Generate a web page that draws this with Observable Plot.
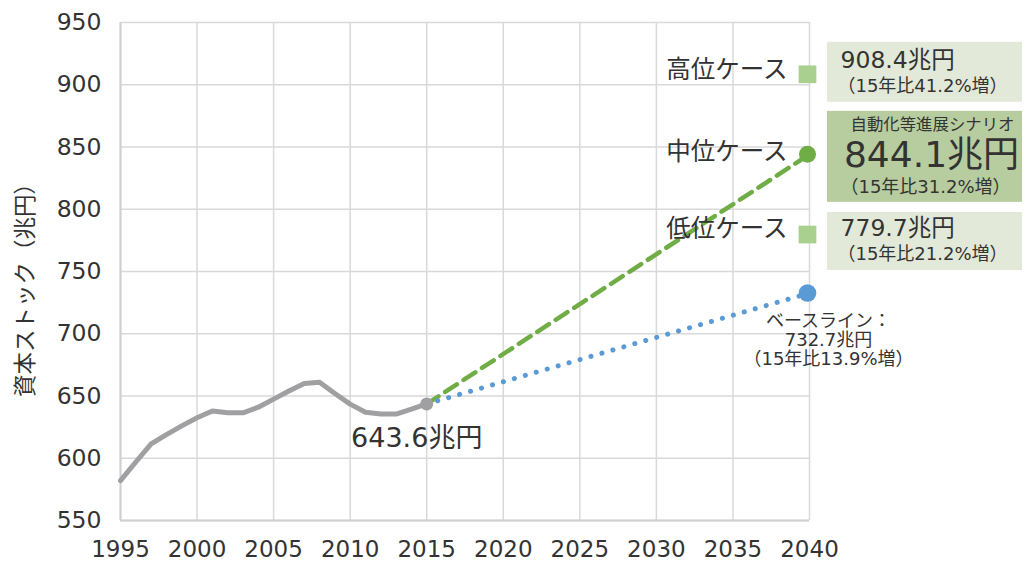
<!DOCTYPE html>
<html>
<head>
<meta charset="utf-8">
<script src="https://cdn.jsdelivr.net/npm/d3@7"></script>
<script src="https://cdn.jsdelivr.net/npm/@observablehq/plot@0.6"></script>
<style>
  html, body { margin: 0; padding: 0; background: #fff; }
  #chart { width: 1024px; height: 563px; }
</style>
</head>
<body>
<div id="chart"></div>
<script>
// Capital stock history (trillion yen)
const years = [1995, 1996, 1997, 1998, 1999, 2000, 2001, 2002, 2003, 2004, 2005,
               2006, 2007, 2008, 2009, 2010, 2011, 2012, 2013, 2014, 2015];
const capitalStock = [582, 597, 611.5, 619, 626, 632.5, 638, 636.5, 636.5, 641, 647.5,
                      654, 660, 661, 652, 643.5, 637, 635.5, 635.5, 639.5, 643.6];

// 2040 projections
const scenarioNames = ["高位ケース", "中位ケース", "低位ケース"];
const scenarioValues = [908.4, 844.1, 779.7];
const scenarioGrowth = ["41.2", "31.2", "21.2"];
const baselineValue = 732.7;
const baselineGrowth = "13.9";
const startYear = 2015;
const endYear = 2040;
const startValue = 643.6;

const xTicks = [1995, 2000, 2005, 2010, 2015, 2020, 2025, 2030, 2035, 2040];
const yTicks = [550, 600, 650, 700, 750, 800, 850, 900, 950];

const history = years.map((year, i) => ({year, value: capitalStock[i]}));
const midLine = [{year: startYear, value: startValue}, {year: endYear, value: scenarioValues[1]}];
const baseLine = [{year: startYear, value: startValue}, {year: endYear, value: baselineValue}];
const squares = [0, 2].map(i => ({year: endYear, value: scenarioValues[i]}));

const font = "'DejaVu Sans', 'Noto Sans CJK JP', sans-serif";
const ink = "#333";

// text anchored at the 2040 value of a scenario
const at = (value, text, options) =>
  Plot.text([value], {x: () => endYear, y: d => d, text: () => text, fill: ink, ...options});

const chart = Plot.plot({
  width: 1024,
  height: 563,
  marginLeft: 120,
  marginRight: 215,
  marginTop: 22,
  marginBottom: 43,
  style: {fontFamily: font, fontSize: "23px", color: ink, background: "#fff", overflow: "visible"},
  x: {domain: [1995, 2040], label: null},
  y: {domain: [550, 950], label: null},
  marks: [
    Plot.gridX(xTicks, {stroke: "#D9D9D9", strokeOpacity: 1, strokeWidth: 1.5}),
    Plot.gridY(yTicks, {stroke: "#D9D9D9", strokeOpacity: 1, strokeWidth: 1.5}),
    Plot.ruleX([1995], {stroke: "#D0D0D0", strokeWidth: 2}),
    Plot.ruleY([550], {stroke: "#D0D0D0", strokeWidth: 2}),
    Plot.axisX({ticks: xTicks, tickSize: 0, tickPadding: 20, tickFormat: d => String(d), fontSize: 23, label: null}),
    Plot.axisY({ticks: yTicks, tickSize: 0, tickPadding: 19, fontSize: 23.5, label: null}),
    Plot.text(["資本ストック（兆円）"], {frameAnchor: "left", textAnchor: "middle", dx: -95, dy: 13, rotate: -90, fontSize: 22.5, fill: ink}),

    // projections
    Plot.line(midLine, {x: "year", y: "value", stroke: "#70AD47", strokeWidth: 4.5, strokeDasharray: "14 8"}),
    Plot.line(baseLine, {x: "year", y: "value", stroke: "#5B9BD5", strokeWidth: 5, strokeDasharray: "0.1 11.3", strokeLinecap: "round"}),

    // history
    Plot.line(history, {x: "year", y: "value", stroke: "#A0A0A2", strokeWidth: 5, strokeLinejoin: "round"}),
    Plot.dot([{year: startYear, value: startValue}], {x: "year", y: "value", r: 6.5, fill: "#A0A0A2"}),
    Plot.text([{year: startYear, value: startValue}], {x: "year", y: "value", text: d => `${d.value.toFixed(1)}兆円`, dx: -10, dy: 34, fontSize: 27, fill: ink}),

    // 2040 markers
    Plot.dot(squares, {x: "year", y: "value", symbol: "square", r: 10, fill: "#A9D08E", dx: -2}),
    Plot.dot([{year: endYear, value: scenarioValues[1]}], {x: "year", y: "value", r: 8.5, fill: "#70AD47", dx: -2}),
    Plot.dot([{year: endYear, value: baselineValue}], {x: "year", y: "value", r: 8.8, fill: "#5B9BD5", dx: -2}),

    // case names
    at(scenarioValues[0], scenarioNames[0], {textAnchor: "end", dx: -22, dy: -4, fontSize: 24.5}),
    at(scenarioValues[1], scenarioNames[1], {textAnchor: "end", dx: -22, dy: -2, fontSize: 24.5}),
    at(scenarioValues[2], scenarioNames[2], {textAnchor: "end", dx: -22, dy: -5, fontSize: 24.5}),

    // high case box text
    at(scenarioValues[0], `${scenarioValues[0].toFixed(1)}兆円`, {textAnchor: "start", dx: 31, dy: -14, fontSize: 23.5}),
    at(scenarioValues[0], `（15年比${scenarioGrowth[0]}%増）`, {dx: 113, dy: 12, fontSize: 18}),
    // middle case box text
    at(scenarioValues[1], "自動化等進展シナリオ", {dx: 123, dy: -30, fontSize: 16.4}),
    at(scenarioValues[1], `${scenarioValues[1].toFixed(1)}兆円`, {dx: 122, dy: 1, fontSize: 36}),
    at(scenarioValues[1], `（15年比${scenarioGrowth[1]}%増）`, {dx: 116, dy: 33, fontSize: 18}),
    // low case box text
    at(scenarioValues[2], `${scenarioValues[2].toFixed(1)}兆円`, {textAnchor: "start", dx: 31, dy: -6, fontSize: 23.5}),
    at(scenarioValues[2], `（15年比${scenarioGrowth[2]}%増）`, {dx: 113, dy: 20, fontSize: 18}),
    // baseline text
    at(baselineValue, `ベースライン：\n${baselineValue.toFixed(1)}兆円\n（15年比${baselineGrowth}%増）`,
       {lineAnchor: "top", lineHeight: 1.06, dx: 19, dy: 20, fontSize: 18})
  ]
});

document.getElementById("chart").appendChild(chart);

// Shaded boxes behind the 2040 figures
const ys = chart.scale("y");
const xs = chart.scale("x");
const svg = d3.select(chart);
const boxLeft = xs.apply(endYear) + 18;
const boxRight = 1022;
const boxes = [
  {value: scenarioValues[0], up: 32, down: 28, fill: "#E2E9D8"},
  {value: scenarioValues[1], up: 43, down: 48, fill: "#B8CD9F"},
  {value: scenarioValues[2], up: 22, down: 36, fill: "#E2E9D8"}
];
const g = svg.insert("g", "g");
g.selectAll("rect").data(boxes).join("rect")
  .attr("x", boxLeft)
  .attr("width", boxRight - boxLeft)
  .attr("y", d => ys.apply(d.value) - d.up)
  .attr("height", d => d.up + d.down)
  .attr("fill", d => d.fill);
</script>
</body>
</html>
